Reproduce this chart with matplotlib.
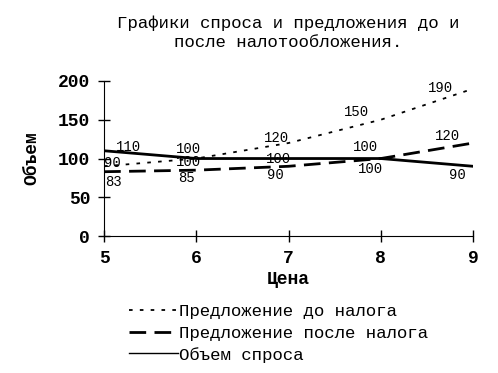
import matplotlib

matplotlib.use("Agg")
import matplotlib.pyplot as plt  # noqa: E402
from matplotlib.lines import Line2D  # noqa: E402

price = [5, 6, 7, 8, 9]
supply_before = [90, 100, 120, 150, 190]
supply_after = [83, 85, 90, 100, 120]
demand = [110, 100, 100, 100, 90]

y_ticks = [0, 50, 100, 150, 200]

title = "Графики спроса и предложения до и\nпосле налотообложения."
names = ["Предложение до налога", "Предложение после налога", "Объем спроса"]

# label offsets in pixels, per series
off_before = [(8, 3), (-8, 10), (-12, 5), (-24, 8), (-33, 1)]
off_after = [(9, -10), (-10, -8), (-13, -9), (-10, -10), (-26, 7)]
off_demand = [(24, 4), (-8, -3), (-10, 0), (-15, 12), (-16, -9)]

mono = "Liberation Mono"

fig = plt.figure(figsize=(4.98, 3.73), dpi=100)
ax = fig.add_axes([0.209, 0.367, 0.741, 0.416])

ax.plot(price, supply_before, color="black", lw=1.3, dashes=(2, 4))
ax.plot(price, supply_after, color="black", lw=2, dashes=(6, 3))
ax.plot(price, demand, color="black", lw=2)

for vals, offs in ((supply_before, off_before), (supply_after, off_after), (demand, off_demand)):
    for x, v, (dx, dy) in zip(price, vals, offs):
        ax.annotate(f"{v}", (x, v), xytext=(dx, dy), textcoords="offset pixels",
                    ha="center", va="center", family=mono, fontsize=10)

ax.set_xlim(5, 9)
ax.set_ylim(0, 200)
ax.set_xticks(price)
ax.set_yticks(y_ticks)
for s in ("top", "right"):
    ax.spines[s].set_visible(False)
ax.tick_params(direction="inout", length=8, width=1, pad=6)
for lab in ax.get_xticklabels() + ax.get_yticklabels():
    lab.set_family(mono)
    lab.set_fontweight("bold")
    lab.set_fontsize(13)

ax.set_xlabel("Цена", family=mono, fontweight="bold", fontsize=13, labelpad=3)
ax.set_ylabel("Объем", family=mono, fontweight="bold", fontsize=13, labelpad=13)

fig.text(0.578, 0.912, title, ha="center", va="center", family=mono, fontsize=12.5,
         linespacing=1.3)

handles = [
    Line2D([], [], color="black", lw=1.3, dashes=(2, 4)),
    Line2D([], [], color="black", lw=2, dashes=(6, 3)),
    Line2D([], [], color="black", lw=1),
]
fig.legend(handles, names, loc="upper left", bbox_to_anchor=(0.245, 0.203),
           frameon=False, handlelength=2.8, handletextpad=0.1, labelspacing=0.35,
           borderaxespad=0, prop={"family": mono, "size": 12.5})

fig.savefig("out.png", dpi=100)
